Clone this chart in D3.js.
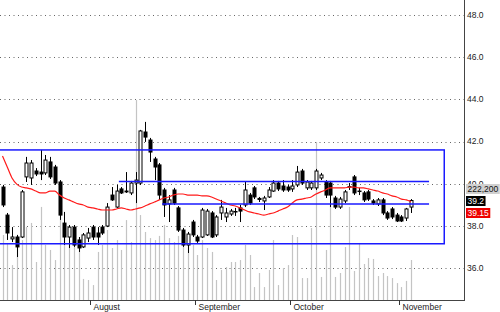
<!DOCTYPE html>
<html>
<head>
<meta charset="utf-8">
<script src="https://cdn.jsdelivr.net/npm/d3@7"></script>
<style>
  html, body { margin: 0; padding: 0; background: #fff; }
  svg { display: block; font-family: "Liberation Sans", Arial, sans-serif; }
</style>
</head>
<body>
<svg width="500" height="312"></svg>
<script>
// daily bars, one entry per trading day
const opens = [39.84, 38.51, 37.38, 37.47, 37.47, 40.32, 40.27, 40.60, 40.55, 40.51,
  41.03, 40.79, 40.08, 38.13, 37.47, 37.94, 37.33, 37.00, 37.42, 37.94,
  37.66, 37.94, 37.99, 39.46, 38.89, 39.75, 39.65, 39.56, 40.03, 40.03,
  42.45, 42.07, 41.17, 40.89, 39.70, 39.04, 39.70, 38.85, 37.80, 37.09,
  38.18, 37.47, 37.47, 37.57, 38.61, 37.57, 38.61, 38.42, 38.56, 38.66,
  38.85, 38.99, 39.46, 39.80, 39.30, 39.18, 39.37, 39.65, 40.03, 39.89,
  39.84, 39.75, 39.94, 40.60, 39.80, 39.80, 39.80, 40.27, 40.08, 40.03,
  39.32, 38.89, 39.18, 39.84, 40.32, 39.65, 39.56, 39.61, 39.18, 39.04,
  39.23, 38.61, 38.80, 38.51, 38.42, 38.37, 38.89];
const highs = [39.94, 38.61, 37.94, 37.57, 39.70, 41.27, 41.12, 40.74, 41.60, 41.36,
  41.27, 40.89, 40.17, 38.66, 38.04, 38.04, 37.47, 37.66, 37.90, 38.04,
  37.94, 38.04, 39.08, 39.84, 39.94, 39.84, 40.55, 40.13, 40.55, 42.55,
  42.93, 42.17, 41.27, 40.98, 39.80, 39.46, 39.80, 38.94, 37.90, 37.71,
  38.28, 37.57, 38.85, 38.80, 38.70, 38.51, 39.23, 38.85, 38.80, 38.85,
  38.99, 40.08, 39.56, 39.89, 39.37, 39.42, 39.84, 40.17, 40.13, 40.17,
  39.94, 40.17, 40.84, 40.70, 40.17, 40.13, 40.70, 40.51, 40.17, 40.13,
  39.42, 39.37, 39.70, 40.03, 40.41, 39.80, 39.65, 39.70, 39.27, 39.32,
  39.32, 38.70, 38.89, 38.61, 38.51, 38.85, 39.27];
const lows = [38.89, 37.33, 37.23, 36.52, 37.42, 40.08, 39.94, 40.36, 40.17, 40.41,
  40.22, 39.94, 38.28, 37.09, 36.95, 37.00, 36.76, 36.95, 37.23, 37.33,
  37.09, 37.57, 37.94, 39.18, 38.85, 39.51, 39.56, 39.46, 39.08, 39.94,
  41.98, 41.03, 40.17, 39.23, 38.42, 38.18, 38.99, 37.71, 37.00, 36.71,
  37.47, 37.19, 37.42, 37.52, 37.42, 37.47, 38.28, 38.18, 38.47, 38.47,
  38.18, 38.89, 38.99, 39.27, 39.13, 38.75, 39.32, 39.61, 39.65, 39.61,
  39.61, 39.61, 39.84, 39.94, 39.70, 39.70, 39.70, 40.17, 39.32, 38.89,
  38.80, 38.80, 39.08, 39.70, 39.46, 39.46, 39.13, 39.18, 38.99, 38.94,
  38.51, 38.28, 38.32, 38.18, 38.18, 38.23, 38.61];
const closes = [38.99, 37.66, 37.47, 37.00, 39.61, 40.98, 40.98, 40.46, 40.46, 41.12,
  40.32, 40.03, 38.51, 37.47, 37.94, 37.09, 36.95, 37.57, 37.66, 37.47,
  37.47, 37.66, 38.89, 39.23, 39.65, 39.56, 39.61, 40.03, 40.17, 42.50,
  42.21, 41.50, 40.79, 39.46, 38.99, 39.23, 39.08, 37.80, 37.09, 37.61,
  37.57, 37.28, 38.75, 38.70, 37.47, 38.42, 38.89, 38.61, 38.70, 38.68,
  38.70, 39.70, 39.08, 39.37, 39.25, 39.32, 39.70, 40.03, 39.75, 39.70,
  39.70, 39.89, 40.55, 40.03, 40.08, 40.03, 40.60, 40.41, 39.46, 39.46,
  38.89, 39.27, 39.61, 39.86, 39.56, 39.63, 39.23, 39.27, 39.08, 39.23,
  38.61, 38.37, 38.42, 38.23, 38.23, 38.80, 39.20];
const volumes = [361000, 317000, 194000, 294000, 333000, 406000, 428000, 211000, 517000, 306000,
  278000, 222000, 472000, 378000, 306000, 333000, 350000, 117000, 111000, 83000,
  267000, 306000, 389000, 289000, 333000, 278000, 444000, 322000, 1111000, 472000,
  378000, 344000, 333000, 356000, 417000, 344000, 322000, 356000, 378000, 333000,
  306000, 250000, 333000, 289000, 267000, 111000, 167000, 183000, 211000, 211000,
  222000, 306000, 250000, 72000, 150000, 72000, 167000, 333000, 83000, 178000,
  194000, 361000, 350000, 122000, 122000, 400000, 878000, 128000, 278000, 528000,
  128000, 150000, 294000, 517000, 161000, 317000, 200000, 233000, 228000, 133000,
  150000, 133000, 122000, 94000, 72000, 106000, 222200];
// moving average as drawn (red)
const movingAvg = [41.31, 40.79, 40.27, 39.98, 39.84, 39.80, 39.75, 39.65, 39.56, 39.56,
  39.65, 39.65, 39.46, 39.32, 39.23, 39.13, 39.04, 38.99, 38.89, 38.85,
  38.80, 38.75, 38.75, 38.75, 38.80, 38.85, 38.80, 38.75, 38.80, 38.85,
  38.94, 39.04, 39.13, 39.23, 39.32, 39.37, 39.46, 39.51, 39.51, 39.46,
  39.46, 39.46, 39.42, 39.42, 39.37, 39.27, 39.18, 39.08, 38.99, 38.94,
  38.85, 38.75, 38.66, 38.61, 38.56, 38.51, 38.56, 38.61, 38.70, 38.80,
  38.89, 39.08, 39.23, 39.27, 39.32, 39.37, 39.51, 39.61, 39.70, 39.80,
  39.80, 39.80, 39.80, 39.84, 39.84, 39.80, 39.80, 39.75, 39.70, 39.65,
  39.56, 39.51, 39.42, 39.37, 39.27, 39.23, 39.15];

const priceTicks = [36, 38, 40, 42, 44, 46, 48];
const monthNames = ["August", "September", "October", "November"];
const monthStart = [19, 41, 61, 84]; // index of first bar of each month

// trend channel (blue) in price / bar-index units
const channelTop = 41.6;
const channelBottom = 37.15;
const channelFrom = -2;
const channelTo = 93;
const levelPrices = [40.1, 39.03];
const levelFrom = [24.5, 33.6];
const levelTo = 89.8;

/*----------- Dimensions ----------- */
const plotW = 464;
const plotH = 300;

const n = closes.length;
const bars = d3.range(n).map((i) => ({
  i: i,
  o: opens[i],
  h: highs[i],
  l: lows[i],
  c: closes[i],
  v: volumes[i],
  ma: movingAvg[i],
}));

const x = d3.scaleLinear().domain([0, n - 1]).range([2.5, 411]);
const y = d3.scaleLinear().domain([36, 48]).range([268, 15]);
const yv = d3.scaleLinear().domain([0, 1111000]).range([plotH, 100]);
const step = x(1) - x(0);
const px = (i) => Math.round(x(i)) + 0.5;

const svg = d3.select("svg");

svg.append("defs")
  .append("clipPath")
  .attr("id", "plot")
  .append("rect")
  .attr("width", plotW)
  .attr("height", plotH);

const chart = svg.append("g").attr("clip-path", "url(#plot)");

// dotted grid
chart.selectAll(".grid")
  .data(priceTicks)
  .enter()
  .append("line")
  .attr("x1", 0)
  .attr("x2", plotW)
  .attr("y1", (d) => Math.round(y(d)) + 0.5)
  .attr("y2", (d) => Math.round(y(d)) + 0.5)
  .attr("stroke", "#666")
  .attr("stroke-dasharray", "1,3.5");

// volume
chart.selectAll(".vol")
  .data(bars)
  .enter()
  .append("line")
  .attr("x1", (d) => px(d.i))
  .attr("x2", (d) => px(d.i))
  .attr("y1", plotH)
  .attr("y2", (d) => yv(d.v))
  .attr("stroke", "#c4c4c4")
  .attr("stroke-width", 1.2);

// candles
const candle = chart.selectAll(".candle")
  .data(bars)
  .enter()
  .append("g");

candle.append("line")
  .attr("x1", (d) => px(d.i))
  .attr("x2", (d) => px(d.i))
  .attr("y1", (d) => y(d.h))
  .attr("y2", (d) => y(d.l))
  .attr("stroke", "#000");

candle.append("rect")
  .attr("x", (d) => px(d.i) - 1.5)
  .attr("width", 3)
  .attr("y", (d) => y(Math.max(d.o, d.c)))
  .attr("height", (d) => Math.max(0.5, Math.abs(y(d.o) - y(d.c))))
  .attr("fill", (d) => (d.c >= d.o ? "#fff" : "#000"))
  .attr("stroke", "#000");

// moving average
const line = d3.line()
  .x((d) => x(d.i))
  .y((d) => y(d.ma))
  .curve(d3.curveMonotoneX);

chart.append("path")
  .datum(bars)
  .attr("fill", "none")
  .attr("stroke", "#ff1a1a")
  .attr("stroke-width", 1.2)
  .attr("d", line);

// channel
chart.append("rect")
  .attr("x", x(channelFrom))
  .attr("y", y(channelTop))
  .attr("width", x(channelTo) - x(channelFrom))
  .attr("height", y(channelBottom) - y(channelTop))
  .attr("fill", "none")
  .attr("stroke", "#1a1aff")
  .attr("stroke-width", 1.5);

chart.selectAll(".level")
  .data(levelPrices)
  .enter()
  .append("line")
  .attr("x1", (d, k) => x(levelFrom[k]))
  .attr("x2", x(levelTo))
  .attr("y1", (d) => y(d))
  .attr("y2", (d) => y(d))
  .attr("stroke", "#1a1aff")
  .attr("stroke-width", 1.5);

// frame
svg.append("line")
  .attr("x1", plotW + 0.5).attr("x2", plotW + 0.5)
  .attr("y1", 0).attr("y2", plotH + 1)
  .attr("stroke", "#444");
svg.append("line")
  .attr("x1", 0).attr("x2", plotW + 1)
  .attr("y1", plotH + 0.5).attr("y2", plotH + 0.5)
  .attr("stroke", "#444");

// price labels on the right
svg.selectAll(".ptick")
  .data(priceTicks)
  .enter()
  .append("text")
  .attr("x", plotW + 3)
  .attr("y", (d) => y(d))
  .attr("dy", "0.35em")
  .attr("font-size", 8.5)
  .attr("fill", "#222")
  .text((d) => d3.format(".1f")(d));

// months
const month = svg.selectAll(".month")
  .data(monthStart)
  .enter()
  .append("g")
  .attr("transform", (d) => "translate(" + (Math.round(x(d) - step / 2) + 0.5) + "," + plotH + ")");

month.append("line")
  .attr("y1", 0)
  .attr("y2", 5)
  .attr("stroke", "#333");

month.append("text")
  .attr("x", 3)
  .attr("y", 10)
  .attr("font-size", 8.5)
  .attr("fill", "#222")
  .text((d, k) => monthNames[k]);

// last values
const last = bars[n - 1];
const fmt = d3.format(".4~g");
const tags = [
  { text: d3.format(",")(last.v), bg: "#d0d0d0", fg: "#111", dy: -12 },
  { text: fmt(last.c), bg: "#000", fg: "#fff", dy: 0 },
  { text: fmt(last.ma), bg: "#ee0000", fg: "#fff", dy: 12 },
];

const tag = svg.selectAll(".tag")
  .data(tags)
  .enter()
  .append("g")
  .attr("transform", (d) => "translate(" + (plotW + 2) + "," + (Math.round(y(last.c)) + d.dy) + ")");

tag.append("text")
  .attr("x", 1.5)
  .attr("dy", "0.35em")
  .attr("font-size", 8.5)
  .attr("fill", (d) => d.fg)
  .text((d) => d.text);

tag.insert("rect", "text")
  .attr("x", 0)
  .attr("y", -5)
  .attr("height", 10)
  .attr("width", function () {
    return this.parentNode.querySelector("text").getComputedTextLength() + 3;
  })
  .attr("fill", (d) => d.bg);
</script>
</body>
</html>
